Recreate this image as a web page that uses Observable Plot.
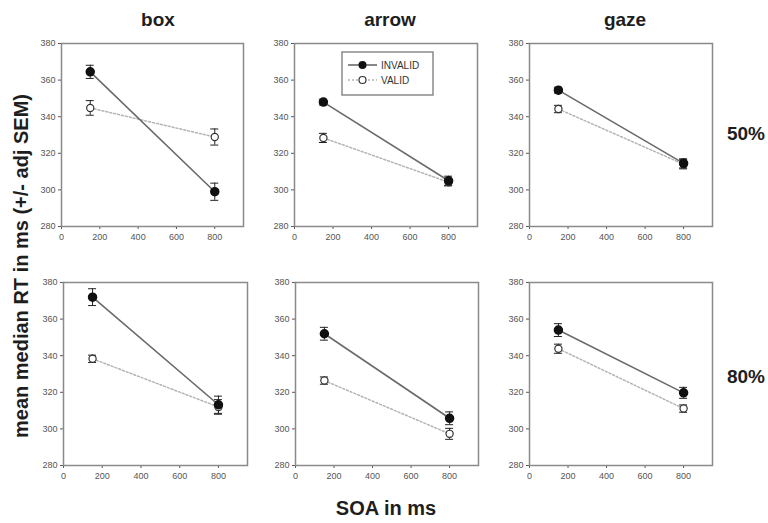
<!DOCTYPE html>
<html>
<head>
<meta charset="utf-8">
<script src="https://cdn.jsdelivr.net/npm/d3@7"></script>
<script src="https://cdn.jsdelivr.net/npm/@observablehq/plot@0.6"></script>
<style>
  html, body { margin: 0; padding: 0; background: #fff; }
  #chart { position: relative; width: 768px; height: 523px; overflow: hidden; font-family: "Liberation Sans", Arial, sans-serif; }
  .panel { position: absolute; }
  .lbl { position: absolute; transform: translate(-50%, -50%); font-weight: bold; color: #1e1e1e; white-space: nowrap; }
</style>
</head>
<body>
<div id="chart"></div>
<script>
// ---- data ----
const soa = [150, 800];
const conditions = ["box", "arrow", "gaze"];
const probabilities = ["50%", "80%"];
const xTicks = [0, 200, 400, 600, 800];
const yTicks = [280, 300, 320, 340, 360, 380];
const seriesNames = ["INVALID", "VALID"];

// per condition (box, arrow, gaze): [RT at 150, RT at 800]
const invalid50    = [[364.5, 299], [348, 305], [354.5, 314.5]];
const invalid50Sem = [[3.6, 4.7], [1.6, 2.5], [1.6, 2.5]];
const valid50      = [[344.8, 328.9], [328.4, 304.2], [344.2, 314]];
const valid50Sem   = [[4, 4.4], [2.5, 2], [2, 2.5]];
const invalid80    = [[372, 313.2], [352, 305.8], [354, 319.7]];
const invalid80Sem = [[4.6, 4.7], [3.5, 3.5], [3.5, 3]];
const valid80      = [[338.3, 312], [326.4, 297.3], [343.8, 311.1]];
const valid80Sem   = [[2, 4], [2, 3], [2.5, 2]];

// ---- layout ----
const chart = document.getElementById("chart");
const mL = 30, mR = 6, mT = 6, mB = 22;
const frameLeft = [[61, 294, 529], [63, 295, 529]];
const frameTop = [43, 282];
const frameW = [[182, 183, 183], [184, 183, 183]];
const frameH = 183;

function rows(vals, sems, name) {
  return soa.map((s, i) => ({soa: s, rt: vals[i], sem: sems[i], series: name}));
}

const sets = [
  [invalid50, invalid50Sem, valid50, valid50Sem],
  [invalid80, invalid80Sem, valid80, valid80Sem]
];

sets.forEach((set, r) => {
  conditions.forEach((c, k) => {
    const inv = rows(set[0][k], set[1][k], seriesNames[0]);
    const val = rows(set[2][k], set[3][k], seriesNames[1]);
    const all = inv.concat(val);
    const w = frameW[r][k];
    const capHalf = 4 * 950 / w;
    const svg = Plot.plot({
      width: mL + w + mR,
      height: mT + frameH + mB,
      marginLeft: mL, marginRight: mR, marginTop: mT, marginBottom: mB,
      style: {fontSize: "9px", color: "#555", fontFamily: "'Liberation Sans', Arial, sans-serif", background: "transparent"},
      x: {domain: [0, 950], ticks: xTicks, tickSize: 3, tickPadding: 4, label: null},
      y: {domain: [280, 380], ticks: yTicks, tickSize: 3, tickPadding: 3, label: null},
      marks: [
        Plot.frame({stroke: "#8a8a8a", strokeWidth: 1.5}),
        Plot.line(val, {x: "soa", y: "rt", stroke: "#b4b4b4", strokeWidth: 1.5, strokeDasharray: "2,2"}),
        Plot.line(inv, {x: "soa", y: "rt", stroke: "#6a6a6a", strokeWidth: 1.6}),
        Plot.ruleX(all, {x: "soa", y1: d => d.rt - d.sem, y2: d => d.rt + d.sem, stroke: "#222", strokeWidth: 1}),
        Plot.ruleY(all, {y: d => d.rt + d.sem, x1: d => d.soa - capHalf, x2: d => d.soa + capHalf, stroke: "#222", strokeWidth: 1}),
        Plot.ruleY(all, {y: d => d.rt - d.sem, x1: d => d.soa - capHalf, x2: d => d.soa + capHalf, stroke: "#222", strokeWidth: 1}),
        Plot.dot(val, {x: "soa", y: "rt", r: 3.6, fill: "white", stroke: "#333", strokeWidth: 1.2}),
        Plot.dot(inv, {x: "soa", y: "rt", r: 4, fill: "#111", stroke: "#111"})
      ]
    });
    svg.classList.add("panel");
    svg.style.left = (frameLeft[r][k] - mL) + "px";
    svg.style.top = (frameTop[r] - mT) + "px";
    chart.appendChild(svg);
  });
});

// ---- text ----
function addLabel(text, x, y, size, rotate) {
  const d = document.createElement("div");
  d.className = "lbl";
  d.textContent = text;
  d.style.left = x + "px";
  d.style.top = y + "px";
  d.style.fontSize = size + "px";
  if (rotate) d.style.transform = "translate(-50%, -50%) rotate(-90deg)";
  chart.appendChild(d);
}
const titleX = [158, 390, 625];
conditions.forEach((c, k) => addLabel(c, titleX[k], 20, 19));
addLabel(probabilities[0], 746, 134, 19);
addLabel(probabilities[1], 746, 377, 19);
addLabel("SOA in ms", 386, 508, 20);
addLabel("mean median RT in ms (+/- adj SEM)", 21, 266, 20, true);

// ---- legend (inside arrow 50% panel) ----
const legend = document.createElementNS("http://www.w3.org/2000/svg", "svg");
legend.setAttribute("width", 94);
legend.setAttribute("height", 46);
legend.style.position = "absolute";
legend.style.left = "341px";
legend.style.top = "51px";
legend.innerHTML = `
  <rect x="1" y="1" width="91" height="43" fill="white" stroke="#8a8a8a" stroke-width="1.5"/>
  <line x1="7" y1="14" x2="36" y2="14" stroke="#6a6a6a" stroke-width="1.6"/>
  <circle cx="21.5" cy="14" r="4" fill="#111"/>
  <line x1="7" y1="29" x2="36" y2="29" stroke="#b4b4b4" stroke-width="1.5" stroke-dasharray="2,2"/>
  <circle cx="21.5" cy="29" r="3.5" fill="white" stroke="#333" stroke-width="1.2"/>
  <text x="40" y="17.5" font-size="10" fill="#333" font-family="Liberation Sans, Arial, sans-serif">${seriesNames[0]}</text>
  <text x="40" y="32.5" font-size="10" fill="#333" font-family="Liberation Sans, Arial, sans-serif">${seriesNames[1]}</text>`;
chart.appendChild(legend);
</script>
</body>
</html>
